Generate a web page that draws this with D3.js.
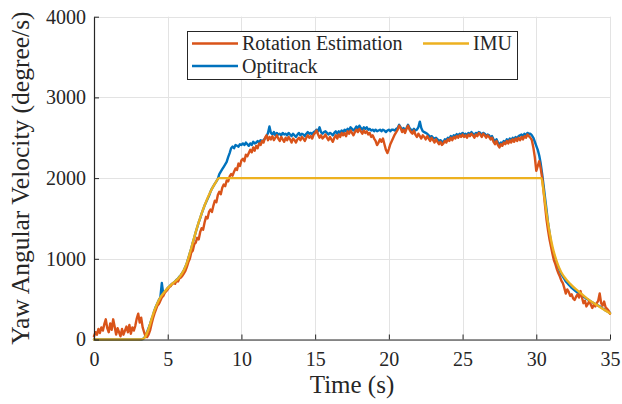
<!DOCTYPE html>
<html>
<head>
<meta charset="utf-8">
<script src="https://cdn.jsdelivr.net/npm/d3@7"></script>
<style>
  body { margin: 0; background: #fff; }
  svg { display: block; }
  text { font-family: "Liberation Serif", "Times New Roman", serif; fill: #262626; }
</style>
</head>
<body>
<svg id="chart" width="622" height="404"></svg>
<script>
// Yaw angular velocity (degree/s) sampled every 0.1 s from 0 to 35 s (one row per second)
const sampleStep = 0.1;

const rotationEstimation = [
  40, 90, 60, 130, 80, 150, 110, 190, 250, 140,
  90, 200, 120, 250, 160, 60, 140, 90, 40, 130,
  60, 110, 160, 90, 180, 70, 150, 110, 170, 260,
  320, 210, 270, 150, 90, 40, 30, 60, 110, 190,
  260, 320, 370, 420, 440, 480, 520, 540, 580, 600,
  620, 650, 660, 690, 700, 690, 730, 720, 760, 770,
  790, 820, 850, 900, 960, 1000, 1080, 1100, 1180, 1200,
  1260, 1240, 1330, 1380, 1360, 1450, 1520, 1500, 1580, 1610,
  1580, 1660, 1720, 1700, 1790, 1830, 1800, 1880, 1920, 1900,
  1970, 1960, 2020, 2050, 2030, 2080, 2120, 2100, 2180, 2150,
  2220, 2240, 2210, 2290, 2270, 2310, 2350, 2320, 2380, 2340,
  2400, 2370, 2430, 2410, 2460, 2440, 2500, 2530, 2470, 2510,
  2480, 2520, 2470, 2500, 2530, 2490, 2460, 2510, 2480, 2450,
  2500, 2470, 2510, 2480, 2440, 2490, 2470, 2440, 2480, 2500,
  2470, 2510, 2490, 2460, 2500, 2530, 2500, 2520, 2490, 2540,
  2560, 2590, 2540, 2500, 2530, 2490, 2510, 2540, 2500, 2470,
  2510, 2480, 2450, 2500, 2530, 2490, 2540, 2510, 2560, 2530,
  2560, 2520, 2580, 2550, 2590, 2560, 2530, 2570, 2600, 2570,
  2610, 2580, 2550, 2590, 2560, 2580, 2540, 2560, 2510, 2530,
  2490, 2460, 2410, 2440, 2480, 2450, 2490, 2420, 2350, 2310,
  2360, 2420, 2460, 2500, 2540, 2570, 2600, 2650, 2620, 2570,
  2600, 2560, 2610, 2650, 2600, 2570, 2550, 2590, 2540, 2510,
  2550, 2520, 2490, 2530, 2510, 2480, 2520, 2490, 2460, 2500,
  2470, 2440, 2480, 2450, 2420, 2450, 2410, 2430, 2460, 2440,
  2480, 2460, 2500, 2470, 2510, 2490, 2520, 2500, 2530, 2510,
  2540, 2510, 2530, 2500, 2540, 2520, 2550, 2530, 2500, 2540,
  2520, 2560, 2540, 2510, 2550, 2530, 2500, 2530, 2510, 2480,
  2500, 2450, 2420, 2460, 2410, 2380, 2420, 2400, 2440, 2420,
  2460, 2430, 2470, 2440, 2480, 2450, 2490, 2460, 2500, 2470,
  2510, 2480, 2520, 2500, 2540, 2520, 2500, 2470, 2380, 2260,
  2090, 2150, 2210, 2120, 2000, 1830, 1650, 1480, 1350, 1240,
  1150, 1060, 980, 930, 870, 820, 780, 730, 700, 640,
  570, 620, 590, 540, 560, 510, 490, 530, 560, 520,
  600, 520, 450, 480, 410, 440, 480, 430, 390, 430,
  410, 450, 480, 570, 450, 420, 470, 400, 380, 360,
  320
];

const optitrack = [
  0, 0, 0, 0, 0, 0, 0, 0, 0, 0,
  0, 0, 0, 0, 0, 0, 0, 0, 0, 0,
  0, 0, 0, 0, 0, 0, 0, 0, 0, 0,
  0, 0, 0, 5, 20, 45, 90, 140, 190, 250,
  300, 360, 410, 450, 490, 520, 700, 560, 590, 615,
  640, 655, 675, 690, 705, 720, 740, 755, 780, 800,
  830, 860, 900, 950, 1010, 1070, 1130, 1200, 1260, 1330,
  1390, 1450, 1500, 1560, 1610, 1660, 1700, 1740, 1780, 1830,
  1870, 1900, 1930, 1960, 1990, 2050, 2080, 2110, 2140, 2170,
  2200, 2260, 2310, 2370, 2390, 2370, 2410, 2400, 2390, 2420,
  2410, 2430, 2410, 2440, 2420, 2400, 2430, 2410, 2450, 2430,
  2440, 2460, 2440, 2470, 2450, 2470, 2490, 2520, 2560, 2640,
  2560, 2540, 2570, 2530, 2560, 2540, 2550, 2530, 2560, 2540,
  2550, 2530, 2560, 2540, 2520, 2550, 2530, 2510, 2540, 2560,
  2530, 2550, 2540, 2520, 2550, 2570, 2550, 2560, 2540, 2570,
  2580, 2600, 2580, 2630, 2570, 2550, 2570, 2580, 2560, 2540,
  2560, 2550, 2530, 2560, 2580, 2550, 2580, 2560, 2590, 2570,
  2600, 2580, 2610, 2590, 2630, 2610, 2590, 2610, 2640, 2610,
  2650, 2620, 2600, 2630, 2610, 2630, 2600, 2610, 2590, 2600,
  2580, 2600, 2580, 2590, 2600, 2580, 2600, 2590, 2570, 2590,
  2600, 2580, 2600, 2600, 2590, 2610, 2620, 2660, 2630, 2600,
  2620, 2590, 2620, 2660, 2620, 2600, 2590, 2610, 2590, 2600,
  2630, 2700, 2620, 2580, 2570, 2560, 2550, 2530, 2510, 2520,
  2500, 2490, 2500, 2480, 2460, 2470, 2450, 2450, 2480, 2470,
  2500, 2490, 2520, 2500, 2530, 2520, 2545, 2530, 2550, 2540,
  2560, 2540, 2550, 2530, 2560, 2540, 2570, 2550, 2530, 2560,
  2550, 2570, 2560, 2530, 2560, 2550, 2520, 2540, 2530, 2500,
  2520, 2480, 2450, 2480, 2440, 2420, 2440, 2430, 2460, 2440,
  2480, 2460, 2490, 2470, 2500, 2480, 2510, 2490, 2520, 2530,
  2540, 2520, 2550, 2530, 2560, 2550, 2550, 2530, 2500, 2450,
  2400, 2350, 2280, 2180, 2050, 1900, 1750, 1600, 1440, 1320,
  1200, 1110, 1050, 990, 930, 890, 850, 810, 780, 750,
  720, 700, 680, 660, 640, 625, 610, 595, 580, 570,
  560, 545, 530, 520, 505, 495, 485, 470, 460, 450,
  440, 430, 420, 410, 400, 385, 375, 360, 350, 340,
  330
];

// IMU reading (saturates at 2000 degree/s)
const imuTime = [0, 3.1, 3.3, 3.5, 3.7, 3.9, 4.1, 4.3, 4.5, 4.7, 4.9, 5.1, 5.3, 5.5, 5.7, 5.9,
  6.1, 6.3, 6.5, 6.7, 6.9, 7.1, 7.3, 7.5, 7.7, 7.9, 8.1, 8.3, 8.45, 30.35, 30.5, 30.7, 30.9,
  31.1, 31.4, 31.7, 32.0, 32.3, 32.7, 33.0, 33.5, 34.0, 34.5, 35];
const imuValue = [0, 0, 5, 40, 130, 250, 360, 450, 520, 570, 615, 655, 690, 720, 755, 800,
  860, 950, 1070, 1200, 1330, 1450, 1560, 1660, 1750, 1830, 1900, 1960, 2000, 2000, 1830, 1560, 1330,
  1150, 960, 830, 750, 690, 620, 575, 500, 440, 380, 325];

const xTicks = [0, 5, 10, 15, 20, 25, 30, 35];
const yTicks = [0, 1000, 2000, 3000, 4000];
const xLabel = "Time (s)";
const yLabel = "Yaw Angular Velocity (degree/s)";

const legendNames = ["Rotation Estimation", "Optitrack", "IMU"];
const colors = { "Rotation Estimation": "#D95319", "Optitrack": "#0072BD", "IMU": "#EDB120" };

const svg = d3.select("#chart");
const plot = { left: 94, right: 610, top: 16.7, bottom: 339.5 };

const x = d3.scaleLinear().domain([0, 35]).range([plot.left, plot.right]);
const y = d3.scaleLinear().domain([0, 4000]).range([plot.bottom, plot.top]);

// grid
const grid = svg.append("g").attr("stroke", "#e3e3e3").attr("stroke-width", 1);
grid.selectAll("line.v").data(xTicks).join("line")
  .attr("x1", d => Math.round(x(d)) + 0.5).attr("x2", d => Math.round(x(d)) + 0.5)
  .attr("y1", plot.top).attr("y2", plot.bottom);
grid.selectAll("line.h").data(yTicks).join("line")
  .attr("y1", d => Math.round(y(d)) + 0.5).attr("y2", d => Math.round(y(d)) + 0.5)
  .attr("x1", plot.left).attr("x2", plot.right);

// series
const sampled = d3.line()
  .x((d, i) => x(i * sampleStep))
  .y(d => y(d));

const lines = svg.append("g").attr("fill", "none").attr("stroke-width", 2.4)
  .attr("stroke-linejoin", "round").attr("stroke-linecap", "round");

lines.append("path").datum(optitrack)
  .attr("stroke", colors["Optitrack"]).attr("d", sampled);
lines.append("path").datum(rotationEstimation)
  .attr("stroke", colors["Rotation Estimation"]).attr("d", sampled);

const imuLine = d3.line()
  .x(i => x(imuTime[i]))
  .y(i => y(imuValue[i]))
  .curve(d3.curveMonotoneX);
lines.append("path").datum(d3.range(imuTime.length))
  .attr("stroke", colors["IMU"]).attr("d", imuLine);

// axes
const xAxis = svg.append("g")
  .attr("transform", `translate(0,${plot.bottom})`)
  .call(d3.axisBottom(x).tickValues(xTicks).tickFormat(d3.format("d"))
    .tickSize(-5).tickSizeOuter(0).tickPadding(12));
const yAxis = svg.append("g")
  .attr("transform", `translate(${plot.left},0)`)
  .call(d3.axisLeft(y).tickValues(yTicks).tickFormat(d3.format("d"))
    .tickSize(-5).tickSizeOuter(0).tickPadding(8));

[xAxis, yAxis].forEach(a => {
  a.select(".domain").attr("stroke", "#262626").attr("stroke-width", 1.2);
  a.selectAll(".tick line").attr("stroke", "#262626").attr("stroke-width", 1);
  a.selectAll(".tick text").attr("fill", "#262626")
    .style("font-family", "'Liberation Serif', serif").style("font-size", "20px");
});

// axis labels
svg.append("text")
  .attr("x", (plot.left + plot.right) / 2).attr("y", 393)
  .attr("text-anchor", "middle").style("font-size", "25px")
  .text(xLabel);
svg.append("text")
  .attr("transform", `translate(29,${(plot.top + plot.bottom) / 2}) rotate(-90)`)
  .attr("text-anchor", "middle").style("font-size", "25.5px")
  .text(yLabel);

// legend
const legend = svg.append("g");
legend.append("rect")
  .attr("x", 187.5).attr("y", 31.5).attr("width", 330).attr("height", 48)
  .attr("fill", "#fff").attr("stroke", "#262626").attr("stroke-width", 1);
const legendPos = {
  "Rotation Estimation": { x: 192, y: 43.5 },
  "Optitrack": { x: 192, y: 66 },
  "IMU": { x: 423, y: 43.5 }
};
legendNames.forEach(name => {
  const p = legendPos[name];
  legend.append("line")
    .attr("x1", p.x).attr("x2", p.x + 46).attr("y1", p.y).attr("y2", p.y)
    .attr("stroke", colors[name]).attr("stroke-width", 2.4);
  legend.append("text")
    .attr("x", p.x + 50).attr("y", p.y + 6.5)
    .style("font-size", "20px")
    .text(name);
});
</script>
</body>
</html>
